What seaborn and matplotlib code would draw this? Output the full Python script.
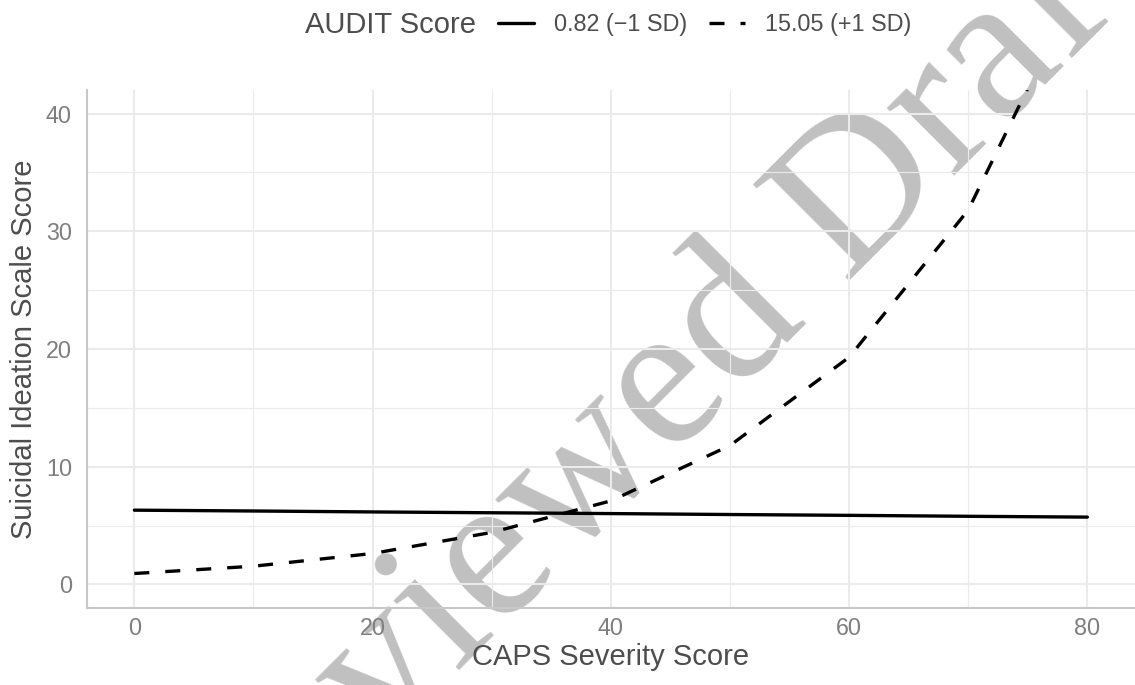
import matplotlib
matplotlib.use("Agg")
import matplotlib.pyplot as plt
from matplotlib.lines import Line2D
from matplotlib.ticker import MultipleLocator
import seaborn as sns
import pandas as pd

# ---- data ----
caps_scores = [0, 10, 20, 30, 40, 50, 60, 70, 80]
audit_low = [6.31, 6.24, 6.16, 6.09, 6.02, 5.94, 5.87, 5.79, 5.72]
audit_high = [0.93, 1.55, 2.63, 4.42, 7.10, 11.8, 19.3, 31.8, 52.5]
group_labels = ["0.82 (\u22121 SD)", "15.05 (+1 SD)"]
x_ticks = [0, 20, 40, 60, 80]
y_ticks = [0, 10, 20, 30, 40]

df = pd.DataFrame({
    "caps": caps_scores * 2,
    "sis": audit_low + audit_high,
    "audit": [group_labels[0]] * len(caps_scores) + [group_labels[1]] * len(caps_scores),
})

sns.set_theme(style="white")
plt.rcParams["font.family"] = ["Liberation Sans", "DejaVu Sans"]

W, H = 1135, 685
fig = plt.figure(figsize=(W / 100, H / 100), dpi=100)
fig.patch.set_facecolor("white")
left, right, bottom, top = 86.7, 1135, 608, 90
ax = fig.add_axes([left / W, 1 - bottom / H, (right - left) / W, (bottom - top) / H])
ax.set_facecolor("none")

LW = 2.4
DASH = (4.5, 4.8)
dash_map = {group_labels[0]: "", group_labels[1]: DASH}
sns.lineplot(data=df, x="caps", y="sis", style="audit", dashes=dash_map,
             color="black", linewidth=LW, ax=ax, legend=False, zorder=5,
             estimator=None, sort=True)

ax.set_xlim(-4, 84)
ax.set_ylim(-2, 42)
ax.set_xticks(x_ticks)
ax.set_yticks(y_ticks)
ax.xaxis.set_minor_locator(MultipleLocator(10))
ax.yaxis.set_minor_locator(MultipleLocator(5))
ax.grid(True, which="major", color="#ebebeb", linewidth=1.5, zorder=0)
ax.grid(True, which="minor", color="#ebebeb", linewidth=0.8, zorder=0)
ax.set_axisbelow(True)

for s in ["top", "right"]:
    ax.spines[s].set_visible(False)
for s in ["left", "bottom"]:
    ax.spines[s].set_color("#c8c8c8")
    ax.spines[s].set_linewidth(1.5)

ax.tick_params(axis="both", which="both", length=0, labelsize=16.8, labelcolor="#7f7f7f")
ax.tick_params(axis="x", pad=6.7)
ax.tick_params(axis="y", pad=10.6)

ax.set_xlabel("CAPS Severity Score", fontsize=21, color="#4d4d4d", labelpad=2)
ax.set_ylabel("Suicidal Ideation Scale Score", fontsize=21, color="#4d4d4d", labelpad=5.5)

# legend at top
handles = [Line2D([], [], color="black", linewidth=LW, linestyle="-"),
           Line2D([], [], color="black", linewidth=LW, linestyle=(0, DASH))]
fig.legend(handles, group_labels, loc="center left", bbox_to_anchor=(498 / W, 1 - 25 / H),
           ncol=2, frameon=False, fontsize=16.8, handlelength=1.545, handletextpad=0.86,
           columnspacing=0.94, borderpad=0, borderaxespad=0, labelcolor="#4d4d4d")
fig.text(476 / W, 1 - 25 / H, "AUDIT Score", ha="right", va="center", fontsize=21, color="#4d4d4d")

# watermark behind the plot
fig.text(0.575, 0.407, "Reviewed Draft", rotation=45, fontsize=150,
         family=["Liberation Serif", "DejaVu Serif"], color="#c0c0c0",
         ha="center", va="center", zorder=-1)

fig.savefig("out.png", dpi=100)
